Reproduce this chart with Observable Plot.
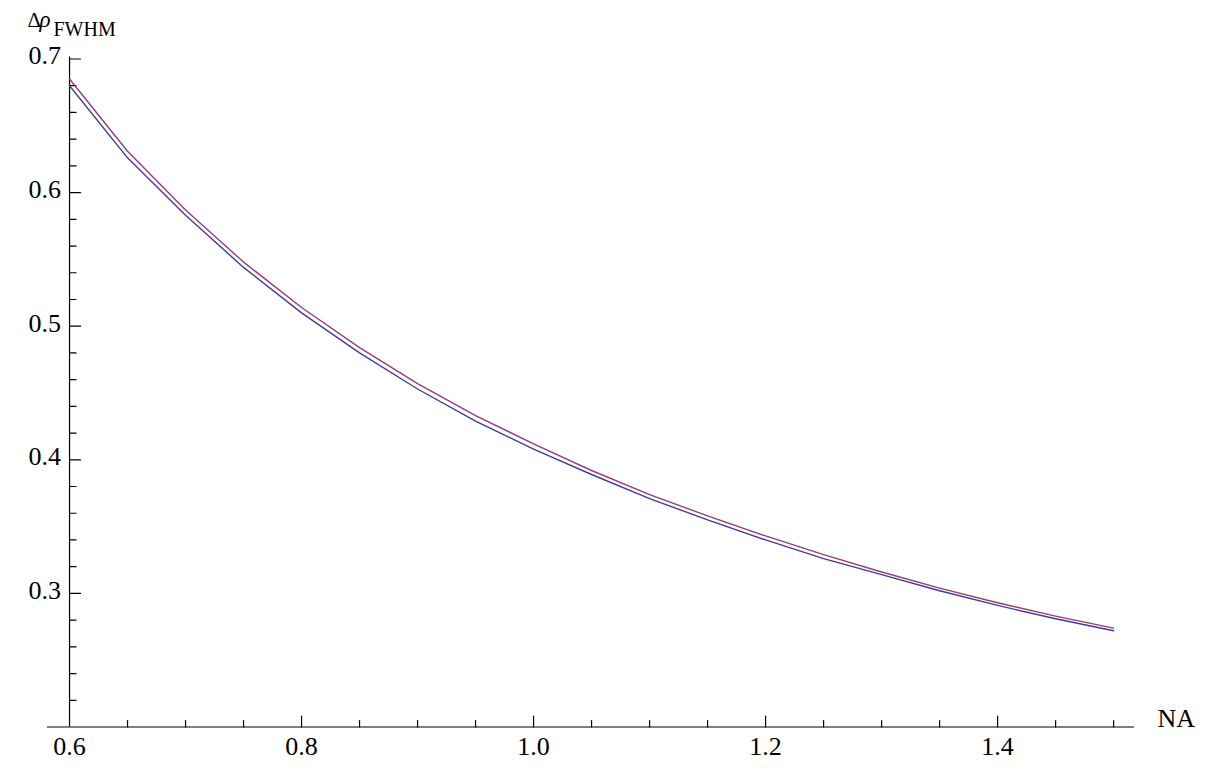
<!DOCTYPE html>
<html>
<head>
<meta charset="utf-8">
<script src="https://cdn.jsdelivr.net/npm/d3@7"></script>
<script src="https://cdn.jsdelivr.net/npm/@observablehq/plot@0.6"></script>
<style>
  html, body { margin: 0; padding: 0; background: #fff; }
  svg text { font-family: "Liberation Serif", "Times New Roman", serif !important; }
</style>
</head>
<body>
<div id="chart"></div>
<script>
// Data
const na = [0.60, 0.65, 0.70, 0.75, 0.80, 0.85, 0.90, 0.95, 1.00, 1.05, 1.10, 1.15, 1.20, 1.25, 1.30, 1.35, 1.40, 1.45, 1.50];
const redSeries  = [0.685, 0.631, 0.587, 0.548, 0.514, 0.484, 0.457, 0.433, 0.412, 0.392, 0.374, 0.358, 0.343, 0.329, 0.316, 0.304, 0.293, 0.283, 0.274];
const blueSeries = [0.680, 0.626, 0.583, 0.544, 0.510, 0.480, 0.453, 0.429, 0.408, 0.389, 0.371, 0.355, 0.340, 0.326, 0.314, 0.302, 0.291, 0.281, 0.272];
const xMajorTicks = [0.6, 0.8, 1.0, 1.2, 1.4];
const xMinorTicks = [0.65, 0.7, 0.75, 0.85, 0.9, 0.95, 1.05, 1.1, 1.15, 1.25, 1.3, 1.35, 1.45, 1.5];
const yMajorTicks = [0.3, 0.4, 0.5, 0.6, 0.7];
const yMinorTicks = [0.22, 0.24, 0.26, 0.28, 0.32, 0.34, 0.36, 0.38, 0.42, 0.44, 0.46, 0.48, 0.52, 0.54, 0.56, 0.58, 0.62, 0.64, 0.66, 0.68];
const xLabel = "NA";
const yLabelMain = "Δ";
const yLabelRho = "ρ";
const yLabelSub = "FWHM";

const red = redSeries.map((v, i) => ({x: na[i], y: v}));
const blue = blueSeries.map((v, i) => ({x: na[i], y: v}));

const FONT = "'Liberation Serif', 'Times New Roman', serif";
const tickShape = {draw(context, l) { context.moveTo(0, 0); context.lineTo(0, -l); }};
const xAxisValue = 0.2;   // y at which the x axis sits
const yAxisValue = 0.6;   // x at which the y axis sits

const chart = Plot.plot({
  width: 1207,
  height: 772,
  marginLeft: 47,
  marginRight: 73,
  marginTop: 56.5,
  marginBottom: 45.5,
  style: {fontFamily: FONT, background: "white", color: "black"},
  x: {domain: [0.581, 1.518], axis: null},
  y: {domain: [0.2, 0.7015], axis: null},
  marks: [
    // axis lines
    Plot.ruleY([xAxisValue], {stroke: "black", strokeWidth: 1.2}),
    Plot.ruleX([yAxisValue], {stroke: "black", strokeWidth: 1.2}),
    // x ticks (pointing up into the plot)
    Plot.vector(xMajorTicks.slice(1), {x: d => d, y: () => xAxisValue, length: 11, rotate: 0, anchor: "start", shape: tickShape, stroke: "black", strokeWidth: 1.2}),
    Plot.vector(xMinorTicks, {x: d => d, y: () => xAxisValue, length: 6.5, rotate: 0, anchor: "start", shape: tickShape, stroke: "black", strokeWidth: 1.2}),
    // y ticks (pointing right into the plot)
    Plot.vector(yMajorTicks, {x: () => yAxisValue, y: d => d, length: 11, rotate: 90, anchor: "start", shape: tickShape, stroke: "black", strokeWidth: 1.2}),
    Plot.vector(yMinorTicks, {x: () => yAxisValue, y: d => d, length: 6.5, rotate: 90, anchor: "start", shape: tickShape, stroke: "black", strokeWidth: 1.2}),
    // tick labels
    Plot.text(xMajorTicks, {x: d => d, y: () => xAxisValue, text: d => d3.format(".1f")(d), dy: 20, fontSize: 26, fill: "black", fontFamily: FONT}),
    Plot.text(yMajorTicks, {x: () => yAxisValue, y: d => d, text: d => d3.format(".1f")(d), textAnchor: "end", dx: -8.5, dy: -3, fontSize: 26, fill: "black", fontFamily: FONT}),
    // axis labels
    Plot.text([xLabel], {frameAnchor: "bottom-right", text: d => d, textAnchor: "start", dx: 23, fontSize: 26, fill: "black", fontFamily: FONT}),
    Plot.text([yLabelMain], {frameAnchor: "top-left", text: d => d, textAnchor: "start", lineAnchor: "bottom", dx: -20, dy: -30, fontSize: 21, fill: "black", fontFamily: FONT}),
    Plot.text([yLabelRho], {frameAnchor: "top-left", text: d => d, textAnchor: "start", lineAnchor: "bottom", dx: -8, dy: -30, fontSize: 23, fontStyle: "italic", fill: "black", fontFamily: FONT}),
    Plot.text([yLabelSub], {frameAnchor: "top-left", text: d => d, textAnchor: "start", lineAnchor: "bottom", dx: 6, dy: -21, fontSize: 20, fill: "black", fontFamily: FONT}),
    // curves
    Plot.line(red, {x: "x", y: "y", stroke: "#993d74", strokeWidth: 1.4}),
    Plot.line(blue, {x: "x", y: "y", stroke: "#3f3d99", strokeWidth: 1.4})
  ]
});
document.getElementById("chart").appendChild(chart);
</script>
</body>
</html>
